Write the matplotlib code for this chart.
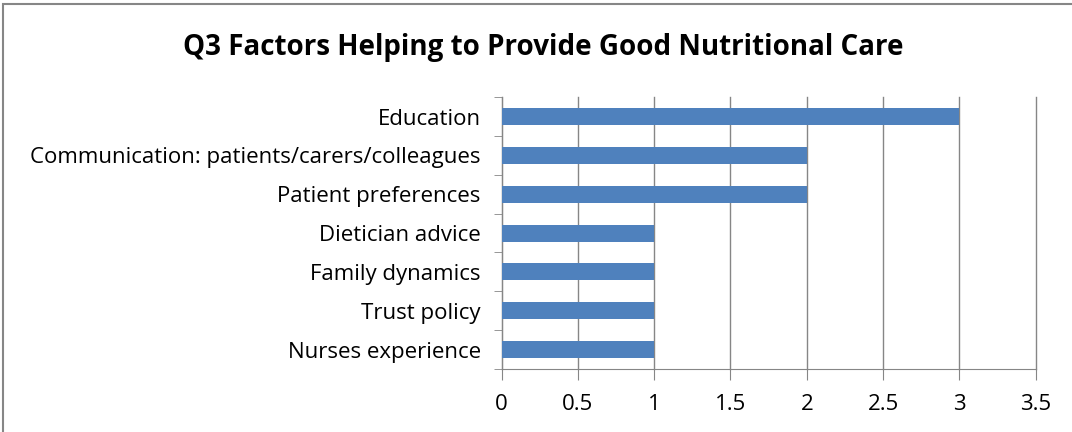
import matplotlib
matplotlib.use('Agg')
import matplotlib.pyplot as plt
from matplotlib.patches import Rectangle

categories = ['Education', 'Communication: patients/carers/colleagues', 'Patient preferences',
              'Dietician advice', 'Family dynamics', 'Trust policy', 'Nurses experience']
values = [3, 2, 2, 1, 1, 1, 1]
xticks = [0, 0.5, 1, 1.5, 2, 2.5, 3, 3.5]

plt.rcParams['font.family'] = ['Open Sans', 'DejaVu Sans']

fig = plt.figure(figsize=(10.72, 4.32), dpi=100)
ax = fig.add_axes([0.468, 0.146, 0.498, 0.629])

# chart border (right and bottom edges fall outside the picture)
fig.patches.append(Rectangle((0.003, -0.2), 1.3, 1.19, transform=fig.transFigure,
                             fill=False, edgecolor='#868686', linewidth=1.5))

ypos = list(range(len(categories)))
ax.barh(ypos, values, height=0.44, color='#4F81BD', zorder=3)
ax.set_ylim(len(categories) - 0.5, -0.5)
ax.set_xlim(0, 3.5)
ax.set_xticks(xticks)
ax.set_xticklabels(['0', '0.5', '1', '1.5', '2', '2.5', '3', '3.5'], fontsize=16)
ax.set_yticks(ypos)
ax.set_yticklabels(categories, fontsize=16)
ax.tick_params(axis='y', length=0, pad=15)
ax.set_yticks([i - 0.5 for i in range(len(categories) + 1)], minor=True)
ax.tick_params(axis='y', which='minor', length=6, color='#868686', direction='out')
ax.tick_params(axis='x', length=8, color='#868686', pad=10)
ax.grid(axis='x', color='#868686', linewidth=1, zorder=0)
for line in ax.get_xgridlines():
    line.set_clip_on(False)
for s in ['top', 'right']:
    ax.spines[s].set_visible(False)
for s in ['left', 'bottom']:
    ax.spines[s].set_color('#868686')

fig.text(0.507, 0.89, 'Q3 Factors Helping to Provide Good Nutritional Care',
         ha='center', va='center', fontsize=20, fontweight='bold')

fig.savefig('out.png', dpi=100)
